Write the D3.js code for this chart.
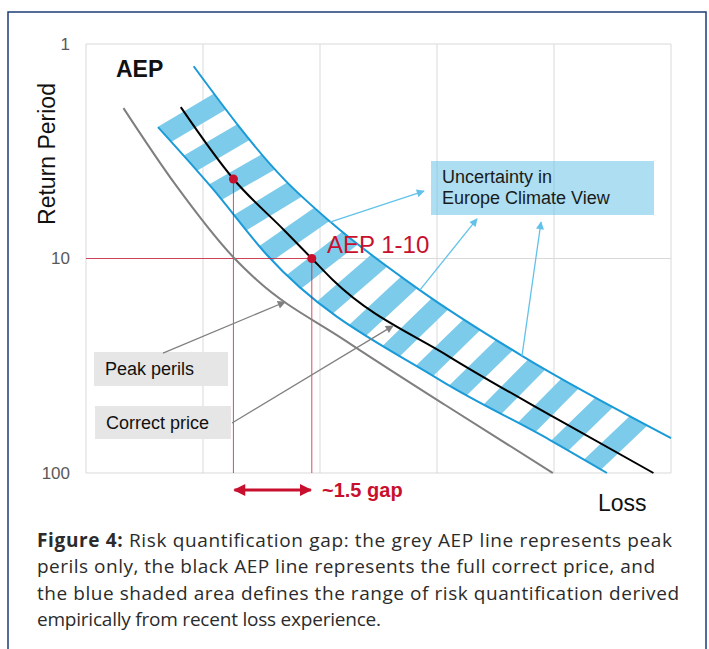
<!DOCTYPE html>
<meta charset="utf-8">
<style>
  body { margin: 0; background: #fff; }
  svg text { font-family: "Liberation Sans", Arial, sans-serif; }
</style>
<svg width="709" height="649"></svg>
<script src="https://d3js.org/d3.v7.min.js"></script>
<script>

// loss in grid units (one unit per vertical gridline), return period in years
const blackLoss = [0.81, 1.26, 1.70, 1.93, 2.11, 3.11, 4.01, 4.85]
const blackRP   = [1.97, 4.26, 7.44, 10, 12.6, 28.8, 55.4, 100]

const greyLoss = [0.32, 0.76, 1.27, 1.46, 2.21, 3.07, 3.99]
const greyRP   = [1.99, 4.49, 10, 12.6, 24.0, 48.2, 100]

const upperLoss = [0.92, 1.70, 2.09, 2.85, 3.73, 5.0]
const upperRP   = [1.27, 4.31, 6.76, 14.0, 28.5, 68.7]

const lowerLoss = [0.615, 1.077, 1.547, 3.026, 3.966, 4.453]
const lowerRP   = [2.44, 4.69, 9.63, 36.9, 70.2, 100]

// the two red points on the black AEP line
const gapLoss = [1.26, 1.93]
const gapRP   = [4.26, 10]

const lossTicks = [0, 1, 2, 3, 4, 5]
const rpTicks = [1, 10, 100]

// callout arrows [fromLoss, fromRP, toLoss, toRP]
const blueArrows = [
  [2.085, 6.76, 2.889, 4.85],
  [2.855, 14.0, 3.342, 6.54],
  [3.726, 28.5, 3.889, 6.76]
]
const greyArrows = [
  [0.658, 27.6, 1.701, 15.95],
  [1.248, 58.5, 2.624, 20.6]
]

const captionLines = [
  ["Figure 4:", " Risk quantification gap: the grey AEP line represents peak"],
  ["", "perils only, the black AEP line represents the full correct price, and"],
  ["", "the blue shaded area defines the range of risk quantification derived"],
  ["", "empirically from recent loss experience."]
]
const captionWidths = [635, 618, 642, 344]

//*********************************************

const x = d3.scaleLinear().domain([0, 5]).range([86, 671])
const y = d3.scaleLog().domain([1, 100]).range([44, 473])

const red = "#c8102e"
const blueLine = "#1b9ad8"
const blueFill = "#7ccbea"

const svg = d3.select("svg")

// outer frame
svg.append("rect")
    .attr("x", 8).attr("y", 12)
    .attr("width", 698).attr("height", 700)
    .attr("fill", "none")
    .attr("stroke", "#1d3c78")
    .attr("stroke-width", 1.5)

const defs = svg.append("defs")
function marker(id, color, w, h) {
  defs.append("marker")
      .attr("id", id)
      .attr("viewBox", "0 0 10 10")
      .attr("refX", 9).attr("refY", 5)
      .attr("markerUnits", "userSpaceOnUse")
      .attr("markerWidth", w).attr("markerHeight", h)
      .attr("orient", "auto-start-reverse")
    .append("path")
      .attr("d", "M0,0L10,5L0,10Z")
      .attr("fill", color)
}
marker("arrBlue", "#62c2ea", 10, 8)
marker("arrGrey", "#808080", 10, 8)
marker("arrRed", red, 13, 12)

// grid
svg.append("g")
    .attr("stroke", "#d9d9d9")
  .selectAll("line")
  .data(lossTicks)
  .join("line")
    .attr("x1", d => x(d)).attr("x2", d => x(d))
    .attr("y1", y(1)).attr("y2", y(100))
svg.append("g")
    .attr("stroke", "#d9d9d9")
  .selectAll("line")
  .data(rpTicks)
  .join("line")
    .attr("x1", x(0)).attr("x2", x(5))
    .attr("y1", d => y(d)).attr("y2", d => y(d))

// y axis labels
const yAxis = svg.append("g")
    .attr("transform", `translate(${x(0)},0)`)
    .call(d3.axisLeft(y).tickValues(rpTicks).tickFormat(d3.format("d")).tickSize(0).tickPadding(16))
yAxis.select(".domain").remove()
yAxis.selectAll("text")
    .attr("font-size", 17)
    .attr("font-family", "Liberation Sans, Arial, sans-serif")
    .attr("fill", "#595959")

svg.append("text")
    .attr("transform", "translate(55,154) rotate(-90)")
    .attr("text-anchor", "middle")
    .attr("font-size", 23)
    .attr("fill", "#111")
    .text("Return Period")

svg.append("text")
    .attr("x", 598).attr("y", 511)
    .attr("font-size", 23)
    .attr("fill", "#111")
    .text("Loss")

svg.append("text")
    .attr("x", 116).attr("y", 77)
    .attr("font-size", 23)
    .attr("font-weight", "bold")
    .attr("fill", "#111")
    .text("AEP")

// curves
const line = d3.line().x(d => x(d[0])).y(d => y(d[1])).curve(d3.curveMonotoneX)
const zip = (a, b) => a.map((v, i) => [v, b[i]])

const upperPath = svg.append("path")
    .attr("d", line(zip(upperLoss, upperRP)))
    .attr("fill", "none")
const lowerPath = svg.append("path")
    .attr("d", line(zip(lowerLoss, lowerRP)))
    .attr("fill", "none")

// stripes inside the band
function sample(node, n) {
  const len = node.getTotalLength()
  return d3.range(n + 1).map(i => {
    const p = node.getPointAtLength(len * i / n)
    return [p.x, p.y]
  })
}
const N = 300
const up = sample(upperPath.node(), N)
const lo = sample(lowerPath.node(), N)
const band = up.concat(lo.slice().reverse())

defs.append("clipPath")
    .attr("id", "bandClip")
  .append("path")
    .attr("d", "M" + band.join("L") + "Z")

const mid = up.map((p, i) => [(p[0] + lo[i][0]) / 2, (p[1] + lo[i][1]) / 2])
const cum = [0]
for (let i = 1; i < mid.length; i++) {
  cum.push(cum[i - 1] + Math.hypot(mid[i][0] - mid[i - 1][0], mid[i][1] - mid[i - 1][1]))
}
const total = cum[cum.length - 1]

function midAt(s) {
  let i = d3.bisectLeft(cum, s)
  i = Math.max(1, Math.min(mid.length - 1, i))
  const a = mid[i - 1], b = mid[i]
  const k = (s - cum[i - 1]) / (cum[i] - cum[i - 1])
  const len = Math.hypot(b[0] - a[0], b[1] - a[1])
  return {p: [a[0] + (b[0] - a[0]) * k, a[1] + (b[1] - a[1]) * k], t: [(b[0] - a[0]) / len, (b[1] - a[1]) / len]}
}

const stripeCount = 15
const stripeStart = 27
const stripeStep = 38.5
const stripeWidth = 20
const stripes = d3.range(stripeCount).map(i => {
  const s = stripeStart + i * stripeStep
  const {p, t} = midAt(s)
  const f = s / total
  const ang = Math.atan2(t[1], t[0]) - (82 - 10 * f) * Math.PI / 180
  const d = [Math.cos(ang), Math.sin(ang)]
  const L = 60, h = stripeWidth / 2
  return [
    [p[0] - L * d[0] - h * t[0], p[1] - L * d[1] - h * t[1]],
    [p[0] + L * d[0] - h * t[0], p[1] + L * d[1] - h * t[1]],
    [p[0] + L * d[0] + h * t[0], p[1] + L * d[1] + h * t[1]],
    [p[0] - L * d[0] + h * t[0], p[1] - L * d[1] + h * t[1]]
  ]
})

svg.append("g")
    .attr("clip-path", "url(#bandClip)")
  .selectAll("path")
  .data(stripes)
  .join("path")
    .attr("d", d => "M" + d.join("L") + "Z")
    .attr("fill", blueFill)

upperPath.raise().attr("stroke", blueLine).attr("stroke-width", 2)
lowerPath.raise().attr("stroke", blueLine).attr("stroke-width", 2)

// red guide lines
const gap = zip(gapLoss, gapRP)
const guides = svg.append("g")
    .attr("stroke", red)
    .attr("stroke-opacity", 0.75)
    .attr("stroke-width", 1)
guides.selectAll("line.v")
  .data(gap)
  .join("line")
    .attr("class", "v")
    .attr("x1", d => x(d[0])).attr("x2", d => x(d[0]))
    .attr("y1", d => y(d[1])).attr("y2", y(100))
guides.append("line")
    .attr("x1", x(0)).attr("x2", x(gap[1][0]))
    .attr("y1", y(gap[1][1])).attr("y2", y(gap[1][1]))

svg.append("path")
    .attr("d", line(zip(greyLoss, greyRP)))
    .attr("fill", "none")
    .attr("stroke", "#7f7f7f")
    .attr("stroke-width", 2)

svg.append("path")
    .attr("d", line(zip(blackLoss, blackRP)))
    .attr("fill", "none")
    .attr("stroke", "#000")
    .attr("stroke-width", 2)

svg.append("g")
  .selectAll("circle")
  .data(gap)
  .join("circle")
    .attr("cx", d => x(d[0])).attr("cy", d => y(d[1]))
    .attr("r", 4.5)
    .attr("fill", red)

svg.append("text")
    .attr("x", 327).attr("y", 253)
    .attr("font-size", 24)
    .attr("fill", red)
    .text("AEP 1-10")

// gap arrow
svg.append("line")
    .attr("x1", x(gap[0][0]) + 1).attr("x2", x(gap[1][0]) - 1)
    .attr("y1", 490).attr("y2", 490)
    .attr("stroke", red)
    .attr("stroke-width", 3)
    .attr("marker-start", "url(#arrRed)")
    .attr("marker-end", "url(#arrRed)")
svg.append("text")
    .attr("x", 322).attr("y", 497)
    .attr("font-size", 20)
    .attr("font-weight", "bold")
    .attr("fill", red)
    .text("~1.5 gap")

// uncertainty callout
svg.append("rect")
    .attr("x", 431).attr("y", 161)
    .attr("width", 223).attr("height", 54)
    .attr("fill", "#5bbde4")
    .attr("fill-opacity", 0.5)
svg.append("text")
    .attr("font-size", 18)
    .attr("fill", "#1a1a1a")
  .selectAll("tspan")
  .data(["Uncertainty in", "Europe Climate View"])
  .join("tspan")
    .attr("x", 442)
    .attr("y", (d, i) => 183 + i * 21)
    .text(d => d)

svg.append("g")
    .attr("stroke", "#62c2ea")
    .attr("stroke-width", 1.3)
  .selectAll("line")
  .data(blueArrows)
  .join("line")
    .attr("x1", d => x(d[0])).attr("y1", d => y(d[1]))
    .attr("x2", d => x(d[2])).attr("y2", d => y(d[3]))
    .attr("marker-end", "url(#arrBlue)")

// grey callouts
const boxes = [
  {x: 94, y: 352, w: 134, h: 34, label: "Peak perils"},
  {x: 95, y: 406, w: 136, h: 33, label: "Correct price"}
]
svg.append("g")
  .selectAll("rect")
  .data(boxes)
  .join("rect")
    .attr("x", d => d.x).attr("y", d => d.y)
    .attr("width", d => d.w).attr("height", d => d.h)
    .attr("fill", "#e6e6e6")
svg.append("g")
  .selectAll("text")
  .data(boxes)
  .join("text")
    .attr("x", d => d.x + 11).attr("y", d => d.y + 23)
    .attr("font-size", 18)
    .attr("fill", "#111")
    .text(d => d.label)

svg.append("g")
    .attr("stroke", "#808080")
    .attr("stroke-width", 1.3)
  .selectAll("line")
  .data(greyArrows)
  .join("line")
    .attr("x1", d => x(d[0])).attr("y1", d => y(d[1]))
    .attr("x2", d => x(d[2])).attr("y2", d => y(d[3]))
    .attr("marker-end", "url(#arrGrey)")

// caption
const cap = svg.append("g")
    .attr("fill", "#2b2b2b")
  .selectAll("text")
  .data(captionLines)
  .join("text")
    .attr("x", 37)
    .attr("y", (d, i) => 547 + i * 26.3)
    .attr("font-size", 19)
    .style("font-family", "'Open Sans', sans-serif")
    .attr("textLength", (d, i) => captionWidths[i])
    .attr("lengthAdjust", "spacing")
cap.append("tspan")
    .attr("font-weight", "bold")
    .text(d => d[0])
cap.append("tspan")
    .text(d => d[1])

</script>
